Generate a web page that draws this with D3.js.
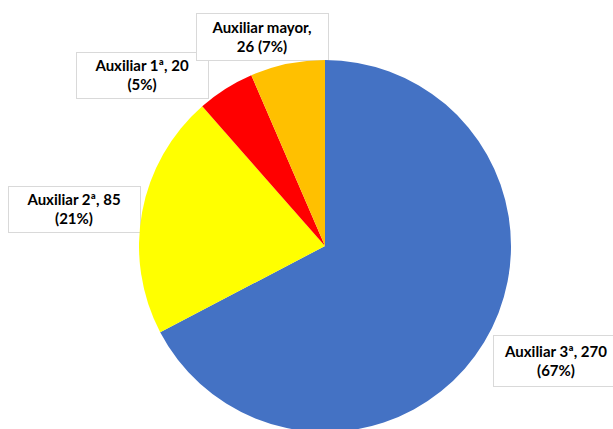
<!DOCTYPE html>
<html><head><meta charset="utf-8">
<script src="https://cdn.jsdelivr.net/npm/d3@7"></script>
<style>html,body{margin:0;padding:0;background:#fff;}svg{display:block;}</style>
</head><body>
<svg id="c" width="613" height="429"></svg>
<script>
const categories = ["Auxiliar 3ª", "Auxiliar 2ª", "Auxiliar 1ª", "Auxiliar mayor"];
const values = [270, 85, 20, 26];
const percentLabels = ["67%", "21%", "5%", "7%"];
const colors = ["#4472C4", "#FFFF00", "#FF0000", "#FFC000"];

// label box layout (x, y, w, h) and whether value goes on second line
const labelLayout = [
  {x: 493, y: 335, w: 130, h: 51, valueOnLine2: false},
  {x: 8,   y: 186, w: 132, h: 46, valueOnLine2: false},
  {x: 76,  y: 52,  w: 132, h: 46, valueOnLine2: false},
  {x: 196, y: 13,  w: 132, h: 47, valueOnLine2: true}
];
const drawOrder = [1, 2, 3, 0];

const svg = d3.select("#c");
const cx = 325, cy = 246, r = 186;
const data = categories.map((c, i) => ({name: c, value: values[i], pct: percentLabels[i], color: colors[i]}));

const pie = d3.pie().value(d => d.value).sort(null);
const arcs = pie(data);
const arc = d3.arc().innerRadius(0).outerRadius(r);

// label boxes
const boxG = svg.append("g");
drawOrder.forEach(i => {
  const L = labelLayout[i], d = data[i];
  const lines = L.valueOnLine2
    ? [d.name + ",", d.value + " (" + d.pct + ")"]
    : [d.name + ", " + d.value, "(" + d.pct + ")"];
  const g = boxG.append("g");
  g.append("rect").attr("x", L.x + 0.5).attr("y", L.y + 0.5).attr("width", L.w).attr("height", L.h)
    .attr("fill", "#fff").attr("stroke", "#d9d9d9").attr("stroke-width", 1);
  const tx = L.x + L.w / 2 + (i === 0 ? -2 : 0);
  const t = g.append("text").attr("text-anchor", "middle")
    .attr("font-family", "Lato, 'Open Sans', sans-serif").attr("font-weight", "bold")
    .attr("font-size", "15px").attr("fill", "#000");
  lines.forEach((ln, k) => {
    t.append("tspan").attr("x", tx).attr("y", L.y + L.h / 2 - 4 + k * 19).text(ln);
  });
});

// pie
svg.append("g").attr("transform", `translate(${cx},${cy})`)
  .selectAll("path").data(arcs).join("path")
  .attr("d", arc).attr("fill", d => d.data.color);
</script>
</body></html>
